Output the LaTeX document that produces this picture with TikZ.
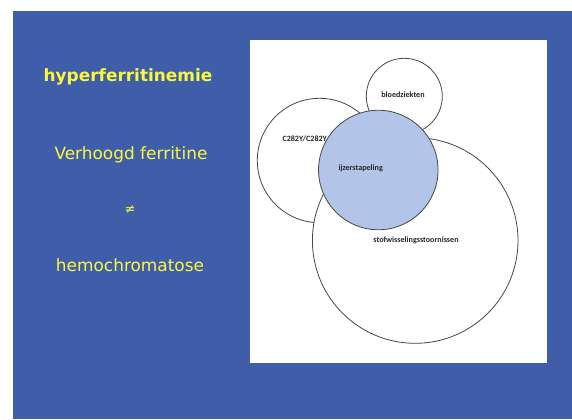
\documentclass[tikz,border=0pt]{standalone}
\usepackage{fontspec}
\setmainfont{DejaVu Sans}
\newfontfamily\smallfont{Carlito}
\definecolor{slideblue}{RGB}{63,93,168}
\definecolor{slideyellow}{RGB}{250,250,60}
\definecolor{ironblue}{RGB}{178,197,232}
\definecolor{ringgray}{RGB}{70,70,70}
\begin{document}
\begin{tikzpicture}[x=1bp,y=-1bp,
  set/.style={circle, draw=ringgray, line width=0.8bp, fill=white, inner sep=0pt, minimum size=#1},
  lbl/.style={font=\smallfont\bfseries\fontsize{8.1}{9}\selectfont, text=black!85, inner sep=0pt},
  slidetext/.style={text=slideyellow, inner sep=0pt, font=\fontsize{17}{19}\selectfont}]
\useasboundingbox (0,0) rectangle (572,419);
\fill[white] (0,0) rectangle (572,419);
\fill[slideblue] (13,11) rectangle (572,419);
\fill[white] (249.5,40) rectangle (546.5,363);
% left texts
\node[slidetext, font=\bfseries\fontsize{17}{19}\selectfont] (title) at (128,77) {hyperferritinemie};
\node[slidetext] (verh) at (131,155) {Verhoogd ferritine};
\node[slidetext, font=\fontsize{13}{15}\selectfont] (neq) at (130,210) {≠};
\node[slidetext] (hemo) at (130,265) {hemochromatose};
% circles
\node[set=124.4bp] (c282) at (319.5,160.5) {};
\node[set=76bp] (bloed) at (404.3,96.3) {};
\node[set=205.6bp] (stof) at (415.2,240.5) {};
\node[lbl, anchor=west] (c282l) at (282.3,139) {C282Y/C282Y};
\node[lbl] (bloedl) at (403,94.3) {bloedziekten};
\node[lbl] (stofl) at (416,240) {stofwisselingsstoornissen};
\node[set=119.5bp, fill=ironblue] (ijzer) at (378.3,170) {};
\node[lbl] (ijzerl) at (360.7,168.3) {ijzerstapeling};
\end{tikzpicture}
\end{document}
